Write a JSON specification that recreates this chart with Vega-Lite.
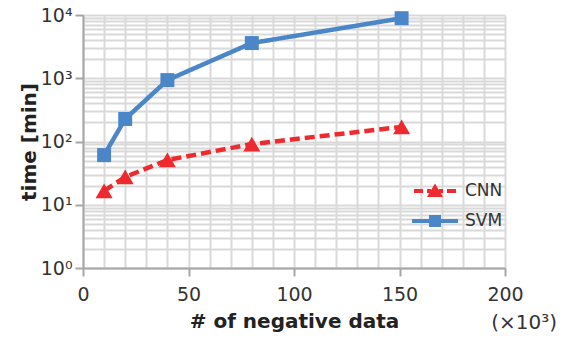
{
  "$schema": "https://vega.github.io/schema/vega-lite/v6.json",
  "width": 422,
  "height": 253,
  "autosize": {"type": "none"},
  "padding": {"left": 83, "top": 15, "right": 60, "bottom": 70},
  "background": "white",
  "title": {"text": "(×10³)", "orient": "bottom", "anchor": "end", "frame": "group", "dx": 52, "dy": -22, "fontSize": 20, "fontWeight": "normal", "color": "#333333", "font": "DejaVu Sans"},
  "config": {
    "view": {"stroke": null},
    "font": "DejaVu Sans",
    "axis": {
      "labelFont": "DejaVu Sans", "titleFont": "DejaVu Sans",
      "labelColor": "#333333", "titleColor": "#222222",
      "domainColor": "#a6a6a6", "domainWidth": 2,
      "gridColor": "#d9d9d9", "gridWidth": 2, "gridOpacity": 1,
      "tickWidth": 2, "tickSize": 8
    }
  },
  "resolve": {"legend": {"color": "independent", "shape": "independent", "size": "independent", "strokeDash": "independent"}},
  "data": {"values": [
    {"n": 10, "time": 61, "model": "SVM"},
    {"n": 20, "time": 227, "model": "SVM"},
    {"n": 40, "time": 935, "model": "SVM"},
    {"n": 80, "time": 3600, "model": "SVM"},
    {"n": 151, "time": 8900, "model": "SVM"},
    {"n": 10, "time": 16.5, "model": "CNN"},
    {"n": 20, "time": 27.5, "model": "CNN"},
    {"n": 40, "time": 51, "model": "CNN"},
    {"n": 80, "time": 91, "model": "CNN"},
    {"n": 151, "time": 170, "model": "CNN"}
  ]},
  "encoding": {
    "x": {
      "field": "n", "type": "quantitative",
      "scale": {"domain": [0, 200], "nice": false},
      "axis": {
        "values": [0,10,20,30,40,50,60,70,80,90,100,110,120,130,140,150,160,170,180,190,200],
        "labelExpr": "datum.value % 50 === 0 ? datum.label : ''",
        "labelFlush": false,
        "tickColor": {"condition": {"test": "datum.value % 50 === 0", "value": "#a6a6a6"}, "value": "transparent"},
        "labelFontSize": 19, "labelPadding": 9,
        "title": "# of negative data", "titleFontSize": 20, "titleFontWeight": "bold", "titlePadding": 7
      }
    },
    "y": {
      "field": "time", "type": "quantitative",
      "scale": {"type": "log", "domain": [1, 10000], "nice": false},
      "axis": {
        "values": [1,2,3,4,5,6,7,8,9,10,20,30,40,50,60,70,80,90,100,200,300,400,500,600,700,800,900,1000,2000,3000,4000,5000,6000,7000,8000,9000,10000],
        "labelExpr": "datum.value == 1 ? '10⁰' : datum.value == 10 ? '10¹' : datum.value == 100 ? '10²' : datum.value == 1000 ? '10³' : datum.value == 10000 ? '10⁴' : ''",
        "tickColor": {"condition": {"test": "indexof([1,10,100,1000,10000], datum.value) >= 0", "value": "#a6a6a6"}, "value": "transparent"},
        "labelFontSize": 19, "labelPadding": 3,
        "title": "time [min]", "titleFontSize": 20, "titleFontWeight": "bold", "titlePadding": 1
      }
    }
  },
  "layer": [
    {
      "mark": {"type": "line", "strokeWidth": 4.5, "strokeCap": "butt"},
      "encoding": {
        "color": {
          "field": "model", "type": "nominal",
          "scale": {"domain": ["CNN", "SVM"], "range": ["#ee2a2e", "#4a86c8"]},
          "legend": {
            "title": null, "orient": "none", "legendX": 342, "legendY": 166,
            "labelFontSize": 17, "labelColor": "#333333", "labelFont": "DejaVu Sans",
            "symbolSize": 400, "labelOffset": 20, "rowPadding": 12,
            "encode": {
              "symbols": {
                "update": {
                  "shape": {"signal": "datum.value === 'CNN' ? 'M-2.1,-0.2L-1.2,-0.2L-1.2,0.2L-2.1,0.2Z M-0.8,-0.2L-0.4,-0.2L-0.4,0.2L-0.8,0.2Z M0.4,-0.2L0.8,-0.2L0.8,0.2L0.4,0.2Z M1.2,-0.2L2.1,-0.2L2.1,0.2L1.2,0.2Z M0,-0.75L0.8,0.6L-0.8,0.6Z' : 'M-2.3,-0.2L2.3,-0.2L2.3,0.2L-2.3,0.2Z M-0.6,-0.6L0.6,-0.6L0.6,0.6L-0.6,0.6Z'"},
                  "fill": {"signal": "datum.value === 'CNN' ? '#ee2a2e' : '#4a86c8'"},
                  "fillOpacity": {"value": 1},
                  "strokeWidth": {"value": 0}
                }
              }
            }
          }
        },
        "strokeDash": {
          "field": "model", "type": "nominal",
          "scale": {"domain": ["CNN", "SVM"], "range": [[10, 5], [1, 0]]},
          "legend": null
        }
      }
    },
    {
      "mark": {"type": "point", "filled": true, "opacity": 1},
      "encoding": {
        "shape": {"field": "model", "type": "nominal", "scale": {"domain": ["CNN", "SVM"], "range": ["triangle-up", "square"]}, "legend": null},
        "size": {"field": "model", "type": "nominal", "scale": {"domain": ["CNN", "SVM"], "range": [290, 195]}, "legend": null},
        "color": {"field": "model", "type": "nominal", "scale": {"domain": ["CNN", "SVM"], "range": ["#ee2a2e", "#4a86c8"]}, "legend": null}
      }
    }
  ]
}
